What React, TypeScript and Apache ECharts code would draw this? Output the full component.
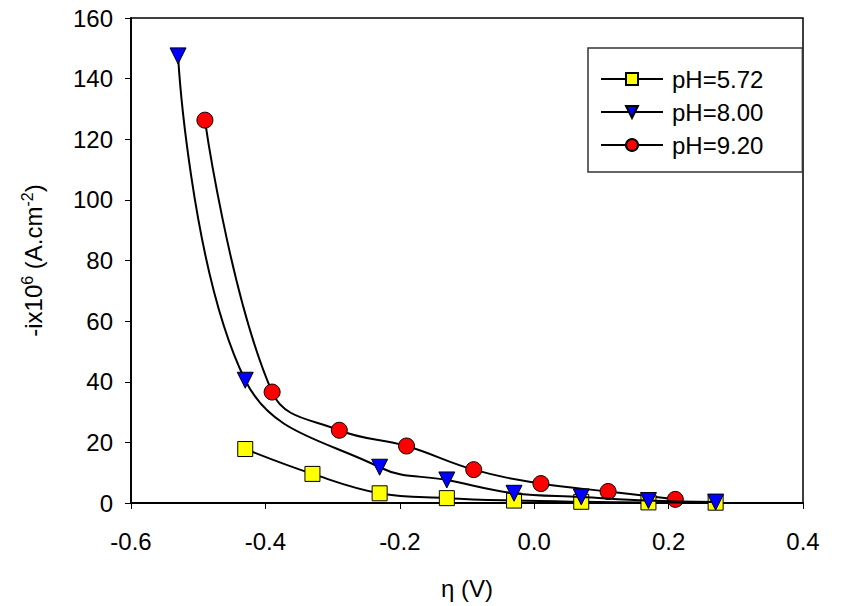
import React, { useEffect, useRef } from "react";
import * as echarts from "echarts";

const xTicks = [-0.6, -0.4, -0.2, 0.0, 0.2, 0.4];
const seriesNames = ["pH=5.72", "pH=8.00", "pH=9.20"];

const x572 = [-0.43, -0.33, -0.23, -0.13, -0.03, 0.07, 0.17, 0.27];
const y572 = [17.8, 9.6, 3.2, 1.6, 0.8, 0.4, 0.2, 0.1];

const x800 = [-0.53, -0.43, -0.23, -0.13, -0.03, 0.07, 0.17, 0.27];
const y800 = [147.5, 40.5, 11.8, 7.6, 3.2, 2.0, 0.8, 0.3];

const x920 = [-0.49, -0.39, -0.29, -0.19, -0.09, 0.01, 0.11, 0.21];
const y920 = [126.3, 36.6, 24.0, 18.8, 11.0, 6.4, 3.8, 1.2];

const zip = (xs: number[], ys: number[]) => xs.map((x, i) => [x, ys[i]]);

export default function App() {
  const ref = useRef<HTMLDivElement>(null);
  useEffect(() => {
    document.body.style.margin = "0";
    if (!ref.current) return;
    const chart = echarts.init(ref.current, null, { renderer: "svg" });
    const font = "Liberation Sans, Arial, sans-serif";
    const lineStyle = { color: "#000", width: 2 };
    const itemBorder = { borderColor: "#000", borderWidth: 1 };
    chart.setOption({
      animation: false,
      backgroundColor: "#fff",
      textStyle: { fontFamily: font },
      grid: {
        left: 131,
        right: 40,
        top: 18,
        bottom: 103,
        show: true,
        borderColor: "#000",
        borderWidth: 1.5,
      },
      legend: {
        orient: "vertical",
        left: 588,
        top: 48,
        padding: [19, 39, 15, 12],
        borderColor: "#333",
        borderWidth: 1.5,
        itemWidth: 62,
        itemHeight: 15,
        itemGap: 9,
        data: seriesNames,
        textStyle: { fontSize: 24, color: "#000", fontFamily: font, padding: [0, 0, 0, 4] },
      },
      xAxis: {
        type: "value",
        min: -0.6,
        max: 0.4,
        interval: 0.2,
        name: "η (V)",
        nameLocation: "middle",
        nameGap: 73,
        nameTextStyle: { fontSize: 24, color: "#000", fontFamily: font },
        axisLine: { onZero: false, lineStyle: { color: "#000", width: 1.8 } },
        axisTick: { show: true, length: 6, lineStyle: { color: "#000" } },
        splitLine: { show: false },
        axisLabel: {
          fontSize: 24,
          color: "#000",
          margin: 26,
          formatter: (v: number) => {
            const t = xTicks.find((k) => Math.abs(k - v) < 1e-9);
            return t === undefined ? "" : t.toFixed(1);
          },
        },
      },
      yAxis: {
        type: "value",
        min: 0,
        max: 160,
        interval: 20,
        name: "-ix10{sup|6} (A.cm{sup|-2})",
        nameLocation: "middle",
        nameGap: 84,
        nameTextStyle: {
          fontSize: 24,
          color: "#000",
          fontFamily: font,
          rich: {
            sup: { fontSize: 16, verticalAlign: "top", padding: [0, 0, 12, 0], color: "#000" },
          },
        },
        axisLine: { show: true, onZero: false, lineStyle: { color: "#000", width: 1.8 } },
        axisTick: { show: true, length: 6, lineStyle: { color: "#000" } },
        splitLine: { show: false },
        axisLabel: { fontSize: 24, color: "#000", margin: 18 },
      },
      series: [
        {
          name: seriesNames[0],
          type: "line",
          smooth: 0.4,
          data: zip(x572, y572),
          symbol: "rect",
          symbolSize: 15,
          lineStyle,
          itemStyle: { color: "#ffff00", ...itemBorder },
          z: 3,
        },
        {
          name: seriesNames[1],
          type: "line",
          smooth: 0.4,
          data: zip(x800, y800),
          symbol: "triangle",
          symbolRotate: 180,
          symbolSize: 16,
          lineStyle,
          itemStyle: { color: "#0000ff", ...itemBorder },
          z: 4,
        },
        {
          name: seriesNames[2],
          type: "line",
          smooth: 0.4,
          data: zip(x920, y920),
          symbol: "circle",
          symbolSize: 16,
          lineStyle,
          itemStyle: { color: "#ff0000", ...itemBorder },
          z: 2,
        },
      ],
    });
    return () => chart.dispose();
  }, []);
  return <div ref={ref} style={{ width: 843, height: 606 }} />;
}
